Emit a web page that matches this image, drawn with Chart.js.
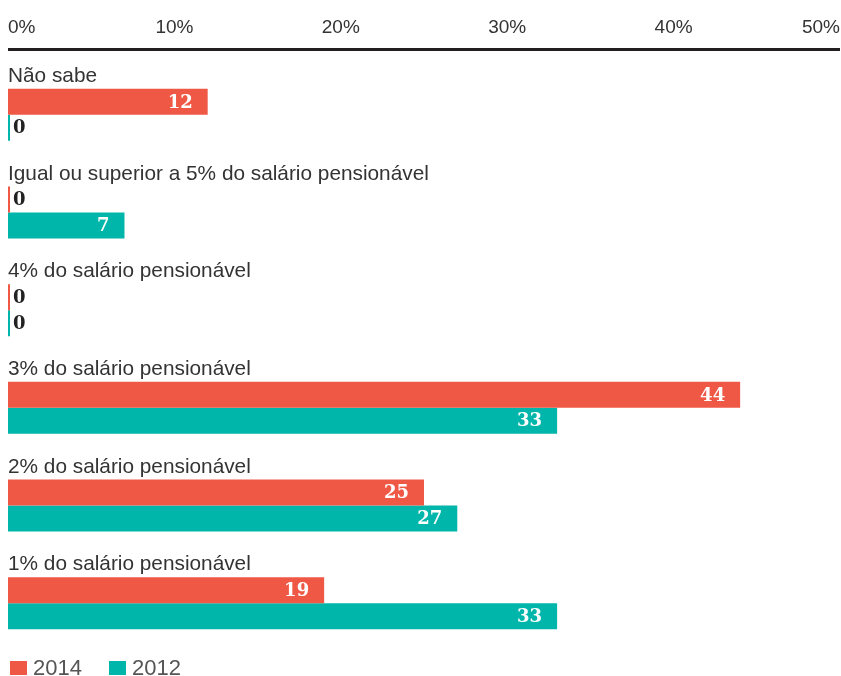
<!DOCTYPE html>
<html>
<head>
<meta charset="utf-8">
<script src="https://cdn.jsdelivr.net/npm/chart.js@4/dist/chart.umd.min.js"></script>
<style>
  html, body { margin: 0; padding: 0; background: #fff; }
  #wrap { position: relative; width: 841px; height: 676px; overflow: hidden; }
  #legend { position: absolute; left: 10px; top: 660px; display: flex; font: 22px "Liberation Sans", Arial, sans-serif; color: #555; line-height: 16px; }
  #legend span.item { display: flex; align-items: center; margin-right: 27px; }
  #legend span.box { display: inline-block; width: 17px; height: 14px; margin-right: 6px; }
</style>
</head>
<body>
<div id="wrap">
  <canvas id="chart" width="841" height="676"></canvas>
  <div id="legend"></div>
</div>
<script>
const categories = [
  'Não sabe',
  'Igual ou superior a 5% do salário pensionável',
  '4% do salário pensionável',
  '3% do salário pensionável',
  '2% do salário pensionável',
  '1% do salário pensionável'
];
const values2014 = [12, 0, 0, 44, 25, 19];
const values2012 = [0, 7, 0, 33, 27, 33];
const seriesNames = ['2014', '2012'];
const seriesColors = ['#f05846', '#00b5aa'];
const xTicks = [0, 10, 20, 30, 40, 50];

const FONT = '"Liberation Sans", Arial, sans-serif';

// group titles, rule under the axis and the numbers on the bars
const annotate = {
  id: 'annotate',
  afterDatasetsDraw(chart) {
    const { ctx, chartArea, scales: { x, y } } = chart;
    ctx.save();
    ctx.fillStyle = '#231f20';
    ctx.fillRect(x.left, chartArea.top - 18, x.right - x.left, 3);

    ctx.font = '20.8px ' + FONT;
    ctx.fillStyle = '#333';
    ctx.textBaseline = 'alphabetic';
    ctx.textAlign = 'left';
    categories.forEach((c, i) => ctx.fillText(c, x.left, y.getPixelForTick(i) - 33));

    ctx.font = 'bold 18px "DejaVu Serif", serif';
    ctx.textBaseline = 'middle';
    chart.data.datasets.forEach((ds, di) => {
      chart.getDatasetMeta(di).data.forEach((bar, i) => {
        const v = ds.data[i];
        if (v > 0) {
          ctx.fillStyle = '#fff';
          ctx.textAlign = 'right';
          ctx.fillText(String(v), bar.x - 15, bar.y + 1);
        } else {
          ctx.fillStyle = '#222';
          ctx.textAlign = 'left';
          ctx.fillText(String(v), bar.x + 3, bar.y + 1);
        }
      });
    });
    ctx.restore();
  }
};

new Chart(document.getElementById('chart'), {
  type: 'bar',
  data: {
    labels: categories,
    datasets: [
      { label: seriesNames[0], data: values2014, backgroundColor: seriesColors[0] },
      { label: seriesNames[1], data: values2012, backgroundColor: seriesColors[1] }
    ]
  },
  options: {
    indexAxis: 'y',
    responsive: false,
    animation: false,
    categoryPercentage: 0.532,
    barPercentage: 1,
    minBarLength: 2,
    layout: { padding: { left: 8, right: 1, top: 0, bottom: 24 } },
    plugins: { legend: { display: false }, tooltip: { enabled: false } },
    scales: {
      x: {
        position: 'top',
        min: 0,
        max: 50,
        afterBuildTicks: scale => { scale.ticks = xTicks.map(v => ({ value: v })); },
        afterFit: scale => {
          scale.height = 66;
          scale.paddingLeft = 0;
          scale.paddingRight = 0;
        },
        grid: { display: false, drawTicks: false },
        border: { display: false },
        ticks: {
          align: 'inner',
          padding: 27,
          color: '#333',
          font: { family: FONT, size: 19 },
          callback: v => v + '%'
        }
      },
      y: { display: false }
    }
  },
  plugins: [annotate]
});

document.getElementById('legend').innerHTML = seriesNames.map((n, i) =>
  '<span class="item"><span class="box" style="background:' + seriesColors[i] + '"></span>' + n + '</span>'
).join('');
</script>
</body>
</html>
